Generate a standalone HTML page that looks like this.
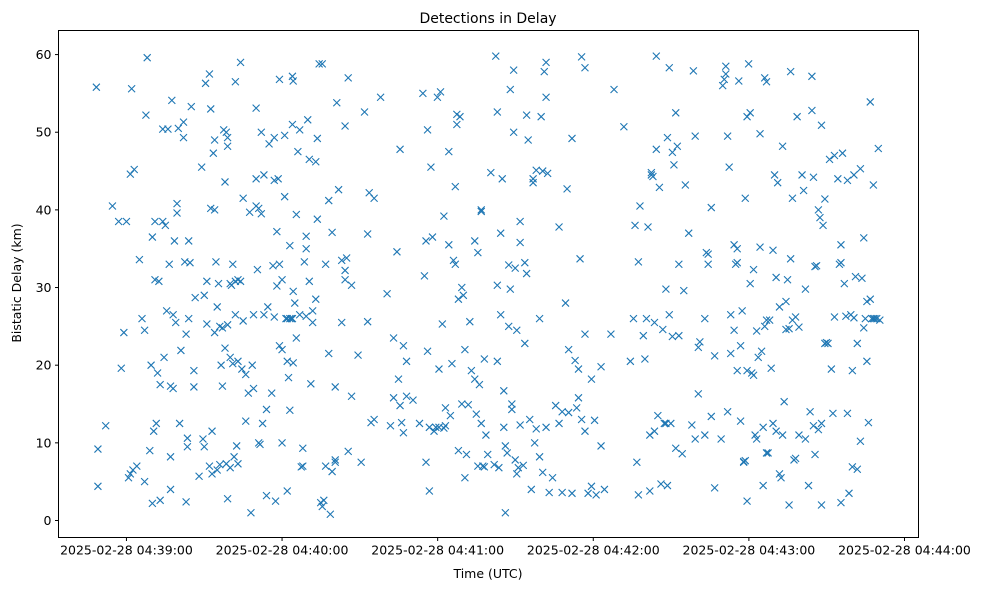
<!DOCTYPE html>
<html><head><meta charset="utf-8"><style>
html,body{margin:0;padding:0;background:#fff;}
svg text{font-family:"DejaVu Sans","Liberation Sans",sans-serif;fill:#000;}
</style></head><body>
<svg id="chart" width="988" height="590" viewBox="0 0 988 590" xmlns="http://www.w3.org/2000/svg">
<rect width="988" height="590" fill="#fff"/>
<text x="488" y="23" text-anchor="middle" font-size="14">Detections in Delay</text>
<g id="marks"></g>
<g id="yaxis"></g>
<g id="xaxis"></g>
<rect x="58.5" y="30.5" width="860" height="507" fill="none" stroke="#000" stroke-width="1"/>
<text x="488" y="578" text-anchor="middle" font-size="12.5">Time (UTC)</text>
<text transform="translate(21,283) rotate(-90)" text-anchor="middle" font-size="12.5">Bistatic Delay (km)</text>
</svg>
<script>
// seconds after 2025-02-28 04:39:00 UTC
const yTicks = [0,10,20,30,40,50,60];
const xTicks = [0,60,120,180,240,300];
const xTickLabels = ["2025-02-28 04:39:00","2025-02-28 04:40:00","2025-02-28 04:41:00","2025-02-28 04:42:00","2025-02-28 04:43:00","2025-02-28 04:44:00"];
const times = [-11.6,-11,-11,-8,-5.4,-3,-2,-1,0,1.5,2,0.8,1.5,2.5,3,4,5,6,7,7.5,8,7,9,9.5,10,10,10.5,11,11,11.5,12,12.5,13,13,14,14,14.5,15,15.5,16,16.5,17,17,17,17.5,18,18,18.5,19,19.5,19.5,20,20.5,21,22,22,22.5,23,23,23.5,23.5,24,24,24.5,25,26,26,26.5,28,29,29.5,30,30,30.5,31,31,32,32,32.5,32.5,33,33,33.5,34,34,34,34.5,35,35,35.5,36,36,36.5,37,37,37.5,38,38,38.5,38.5,39,39,39,39,40,40,40,40.5,41,41,41.5,42,42,42,42.5,43,43,43,44,44,44.5,45,45,46,46,47,47.5,48,48.5,49,49,50,50,50,50.5,51,51,51.5,52,52,52.5,53,53,54,54,54.5,55,56,56.5,57,57,57,57.5,58,58,58.5,59,59,59,60,60,60,61,61,61.5,62,62,62,62.5,63,63,63,64,64,64,
63.6,64.3,64.3,64.3,64.9,65.5,65.5,66.1,66.8,66.8,67.4,68,68,68.6,69.3,69.3,69.3,69.9,70.5,70.5,71.1,71.8,71.8,73,73,73.6,73.6,74.3,74.9,75.5,75.5,76.1,76.8,76.8,78,78,78.6,79.3,79.3,80.5,80.5,80.5,81.1,81.8,83,83,84.3,84.3,84.3,84.9,85.5,85.5,86.8,86.8,89.3,90.5,91.8,93,93,93.6,94.3,95.5,95.5,98,100.5,101.8,103,103,104.3,104.9,105.5,105.5,106.1,106.8,106.8,108,108,110.5,113,114.3,114.9,115.5,115.5,116.1,116.1,116.8,116.8,117.4,118,118.6,119.3,119.9,120.5,120.5,121.1,121.8,122.4,122.4,123,123,124.3,124.3,124.9,125.5,126.1,126.8,126.8,127.4,127.4,128,128,128.6,129.3,129.3,129.9,130.5,130.5,131.1,131.8,132.4,133,134.3,134.3,134.9,135.5,135.5,136.1,136.8,136.8,136.8,137.4,138,138,138.6,139.3,140.5,141.8,142.4,143,143,143,143.6,144.3,144.3,144.9,145.5,145.5,146.1,146.1,146.8,147.4,147.4,148,148,148.6,148.6,149.3,149.3,149.9,149.9,150.5,150.5,151.1,151.8,151.8,151.8,153,153.6,153.6,154.3,154.3,154.9,155.5,156.1,156.8,156.8,157.4,158,158,159.3,159.3,159.9,160.5,160.5,161.1,161.8,161.8,161.8,162.4,163,164.3,165.5,166.8,166.8,168,168,169.3,169.9,170.5,170.5,171.8,171.8,173,173.6,174.3,174.3,174.9,175.5,175.5,176.8,176.8,176.8,178,179.3,179.3,180.5,181.1,183,183,184.3,186.8,188,191.8,194.3,195.5,196.1,196.8,197.4,197.4,198,199.3,199.9,200.5,201.1,201.8,201.8,202.4,202.4,203,203.6,203.6,204.3,204.3,204.9,205.5,206.1,206.8,207.4,208,208,208.6,208.6,209.3,209.3,209.9,210.5,210.5,211.1,211.8,211.8,212.4,213,213,214.3,214.9,215.5,216.8,218,218.6,219.3,219.3,220.5,220.5,221.1,223,223,223.6,224.3,224.3,225.5,225.5,226.8,226.8,229.3,229.9,230.5,231.1,231.1,231.8,231.8,232.4,233,233,234.3,234.3,234.9,235.5,235.5,235.5,236.1,236.8,236.8,237.4,238,238,238.6,238.6,239.3,239.3,239.9,239.3,240.5,240.5,241.1,241.8,241.8,242.4,243,243,243.6,244.3,244.3,244.9,245.5,245.5,246.1,246.1,246.8,246.8,246.8,247.4,248,248.6,249.3,249.3,249.9,250.5,250.5,251.1,251.8,251.8,252.4,253,253,253.6,254.3,254.3,254.9,255.5,255.5,256.1,256.1,256.8,256.8,257.4,258,258,258.6,259.3,259.3,260.5,261.1,261.8,261.8,263,263.6,264.3,264.3,264.9,264.9,265.5,265.5,266.1,266.8,266.8,267.4,268,268,268,268.6,269.3,269.3,269.9,270.5,271.1,271.8,272.4,273,273,274.3,274.9,275.5,275.5,275.5,276.1,276.8,277.4,278,278,278.6,279.3,279.9,279.9,280.5,280.5,281.1,281.8,281.8,283,283,283.6,284.3,284.3,284.9,285.5,285.5,286.1,286.8,286.8,287.4,288,288,288.6,289.3,289.9,290.5];
const delays = [55.8,9.2,4.4,12.2,40.5,38.5,19.6,24.2,38.5,44.6,55.6,5.5,6,6.5,45.2,7,33.6,26,24.5,52.2,59.6,5,9,20,36.5,2.2,11.5,38.5,31,12.5,19,30.8,17.5,2.6,38.5,50.4,21,38,27,50.4,33,17.3,4,8.2,54.1,26.5,17,36,25.5,40.8,39.6,50.5,12.5,21.9,49.3,51.3,33.3,2.4,24,10.6,9.5,36,26,33.2,53.3,17.2,19.3,28.7,5.7,45.5,10.5,9.5,29,56.3,25.3,30.8,57.5,7,53,40.2,11.5,6,47.3,40,49,24.2,33.3,27.5,6.5,30.5,25,7.2,20,24.8,17.3,50.3,22.2,43.6,50,7.3,25.2,49.3,48.2,2.8,21,30.5,6.8,30.3,33,20.2,8.2,56.5,26.5,30.8,9.6,31,20.5,7.3,30.8,59,19.5,41.5,25.7,12.8,18.8,16.4,39.7,1,20,17,26.5,40.5,44,53.1,32.3,40.2,10,9.8,50,39.5,12.5,44.5,26.5,3.2,14.3,27.5,48.5,16.4,32.8,49.3,43.8,26.2,2.5,30.2,37.2,44,56.8,33,22.5,22,31,10,41.7,49.6,26,3.8,26,20.5,18.4,35.4,26,14.2,57.2,51,26,26,20.3,29.5,56.6,28,39.4,23.5,47.5,26.5,50.3,6.9,9.3,7,33.3,35,36.6,26.3,51.6,30.8,46.5,17.6,25.5,27,28.5,46.2,49.2,38.8,58.8,2.3,1.8,58.8,2.6,33,7,41.2,21.5,0.8,6.3,37.1,7.8,17.2,7.5,53.8,42.6,25.5,33.5,50.8,32.2,31,33.8,8.9,57,16,30.3,21.3,7.5,52.6,25.6,36.9,42.2,12.6,41.5,13,54.5,29.2,12.2,15.8,23.5,34.6,18.2,47.8,14.8,12.6,11.3,22.5,20.5,16,15.5,12.5,55,31.5,36,7.5,50.3,21.8,12,3.8,45.5,36.5,11.5,12,54.5,12,19.5,55.2,25.3,39.2,11.9,12.2,14.5,35.5,47.5,13.5,20.2,33.5,33,43,51,52.3,28.5,9,52,15,30,29,5.5,22,8.5,14.9,25.6,19.3,18.2,36,13.7,7,34.5,17.5,40,39.8,12.5,7,6.9,20.8,11,8.5,44.8,7.2,59.8,52.6,30.3,20.5,6.8,26.5,37,44,16.7,12,9.6,1,8.7,32.9,25,55.5,29.8,15,14.3,58,50,7.8,32.5,6,24.5,6.8,38.5,35.8,12.3,7.1,22.8,33.2,52.2,31.8,49,13,4,44,43.5,10,45.1,11.8,8.2,26,52,45,6.2,57.8,54.5,12,59,44.7,3.6,5.5,14.8,37.8,12.5,14,3.6,28,42.7,22,13.9,49.2,3.5,20.6,14.5,15.8,19.5,33.7,13,59.7,58.3,11.5,24,3.5,4.4,18.2,12.9,3.3,9.6,19.8,4,24,55.5,50.7,20.5,26,38,7.5,3.3,33.3,40.5,23.8,20.8,26,37.8,11,3.8,44.5,44.8,44.3,25.5,11.5,47.8,59.8,13.5,42.9,4.7,24.6,12.5,29.8,12.5,49.3,4.5,58.3,26.5,12.5,47.4,23.7,45.8,9.3,52.5,48.2,23.8,33,8.6,29.6,43.2,37,12.3,57.9,49.5,10.5,16.3,22.3,23,11,26,34.5,34.3,33,13.4,40.3,21.2,4.2,10.5,56,56.8,57.5,58.5,49.5,14,45.5,21.5,26.5,35.5,24.5,33,33.2,35,19.3,56.6,12.8,22.5,27,7.5,7.6,41.5,7.7,52,19.3,58.8,2.5,30.5,52.5,19,32.3,18.7,11,10.5,24.4,21,35.2,49.8,21.8,4.5,12,57,25,56.5,8.7,25.8,8.7,25.8,19.6,12.5,34.8,44.5,31.3,11.5,43.5,6,27.5,5.5,11,48.2,15.3,24.6,28.2,31,2,24.7,33.7,57.8,41.5,25.8,7.8,8,26.2,52,11,24.9,44.5,42.5,29.8,10.5,4.5,14,57.2,52.8,44.2,12.2,32.7,8.5,32.8,11.7,40,39,12.5,2,50.9,38,41.4,22.8,22.9,22.8,46.5,19.5,13.8,26.2,47,44,33,35.5,33.2,2.3,47.3,30.5,26.3,13.8,43.8,3.5,26.5,6.9,19.3,44.5,26.1,31.4,6.6,22.8,45.3,10.2,31.2,36.4,24.8,26,28.2,20.5,12.6,53.9,28.5,26,26,43.2,26,26,47.9,25.8];

const X0=58.5, X1=918.5, Y0=537.5, Y1=30.5;
const xMin=-26.2, xMax=305.4, yMin=-2.19, yMax=63.1;
function xScale(t){return X0+(t-xMin)/(xMax-xMin)*(X1-X0);}
function yScale(d){return Y0-(d-yMin)/(yMax-yMin)*(Y0-Y1);}
const NS="http://www.w3.org/2000/svg";
const marks=document.getElementById('marks');
const n=Math.min(times.length,delays.length);
for(let i=0;i<n;i++){
  const cx=xScale(times[i]), cy=yScale(delays[i]), r=3.5;
  const p=document.createElementNS(NS,'path');
  p.setAttribute('d',`M${cx-r},${cy-r}L${cx+r},${cy+r}M${cx-r},${cy+r}L${cx+r},${cy-r}`);
  p.setAttribute('stroke','#1f77b4');
  p.setAttribute('stroke-width','1.1');
  p.setAttribute('fill','none');
  
  
  marks.appendChild(p);
}
const ya=document.getElementById('yaxis');
yTicks.forEach(v=>{
  const y=yScale(v);
  const l=document.createElementNS(NS,'line');
  l.setAttribute('x1',X0-3.5);l.setAttribute('x2',X0);l.setAttribute('y1',y);l.setAttribute('y2',y);
  l.setAttribute('stroke','#000');
  
  
  ya.appendChild(l);
  const t=document.createElementNS(NS,'text');
  t.setAttribute('x',X0-7);t.setAttribute('y',y+4.5);t.setAttribute('text-anchor','end');t.setAttribute('font-size','12.5');
  t.textContent=v;
  
  
  ya.appendChild(t);
});
const xa=document.getElementById('xaxis');
xTicks.forEach((v,i)=>{
  const x=xScale(v);
  const l=document.createElementNS(NS,'line');
  l.setAttribute('x1',x);l.setAttribute('x2',x);l.setAttribute('y1',Y0);l.setAttribute('y2',Y0+3.5);
  l.setAttribute('stroke','#000');
  
  
  xa.appendChild(l);
  const t=document.createElementNS(NS,'text');
  t.setAttribute('x',x);t.setAttribute('y',Y0+17);t.setAttribute('text-anchor','middle');t.setAttribute('font-size','12.5');
  t.textContent=xTickLabels[i];
  
  
  xa.appendChild(t);
});
</script>
</body></html>
